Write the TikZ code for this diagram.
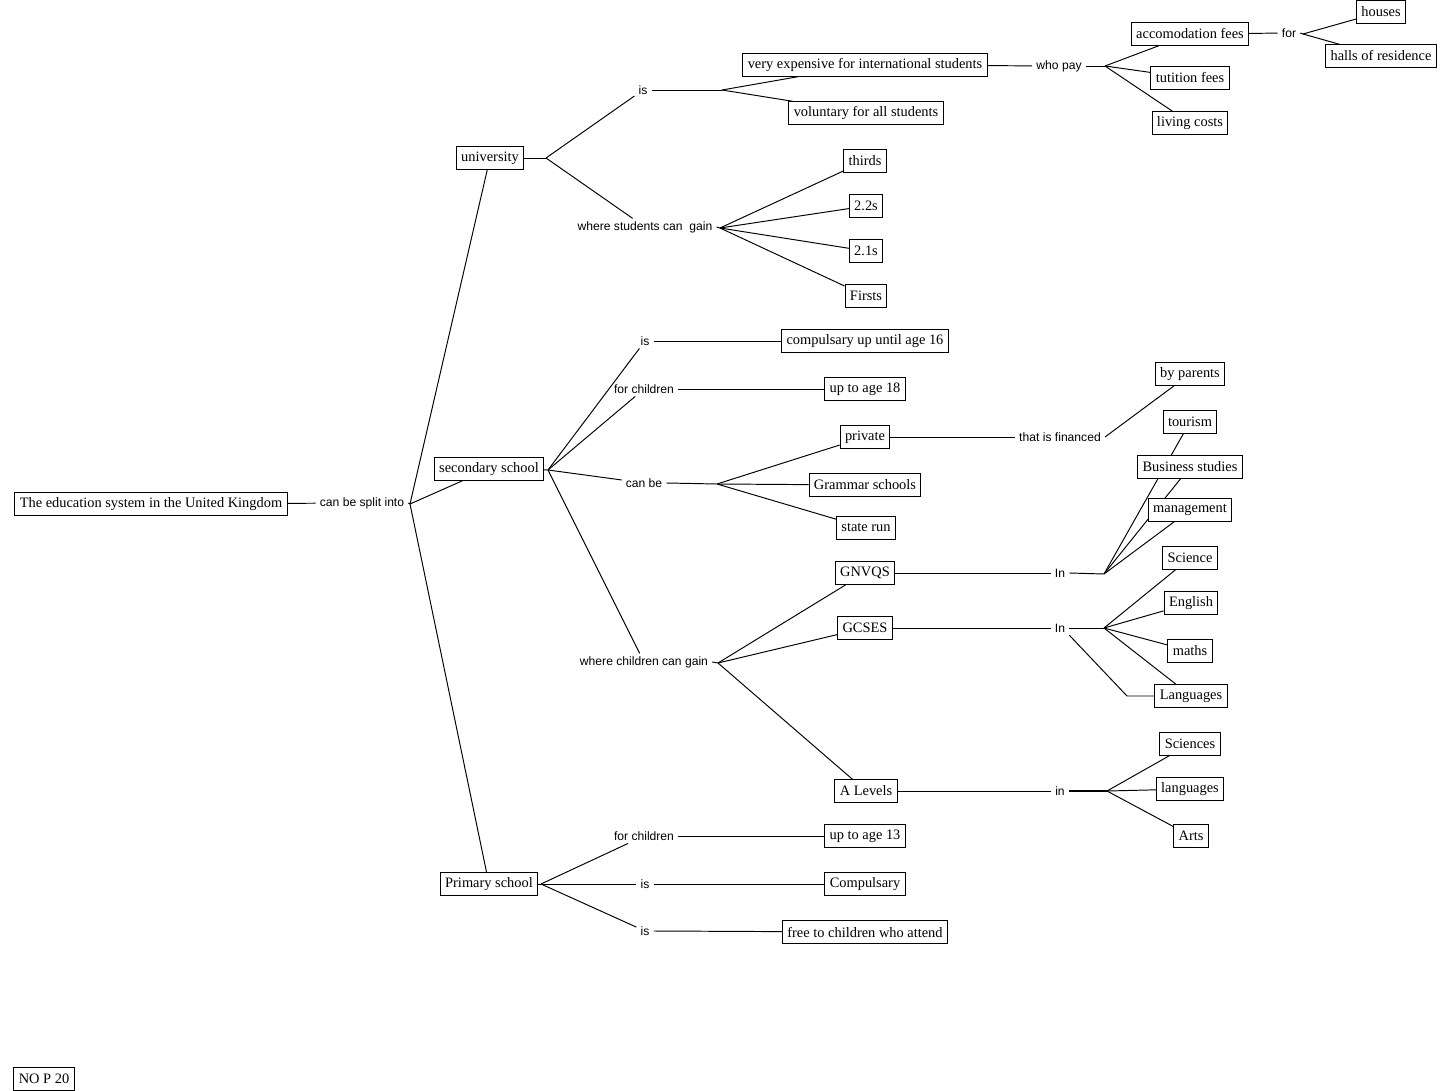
\documentclass[tikz,border=0pt]{standalone}
\usepackage{fontspec}
\setmainfont{Liberation Serif}
\setsansfont{Liberation Sans}
\usepackage{tikz}
\usetikzlibrary{backgrounds,calc}
\tikzset{
    % Plain boxes, sharp corners, white fill hides the lines behind
    conceptbox/.style={
        rectangle,
        draw=black,
        fill=white,
        line width=0.55pt,
        inner xsep=2.8pt,
        inner ysep=1pt,
        minimum height=0.45cm,
        align=center,
        font=\fontsize{8.2}{9.5}\selectfont
    },
    linkphrase/.style={
        inner xsep=2.2pt,
        inner ysep=1.5pt,
        font=\sffamily\fontsize{6.9}{8}\selectfont
    },
    connector/.style={
        line width=0.55pt,
        color=black
    }
}
\begin{document}
\begin{tikzpicture}[x=0.02cm, y=-0.02cm]
    \useasboundingbox (0,0) rectangle (1444,1091);
    \node[conceptbox] (ukedu) at (151,504) {The education system in the United Kingdom};
    \node[linkphrase] (splitinto) at (362,503) {can be split into};
    \node[conceptbox] (university) at (490,158) {university};
    \node[conceptbox] (secondary) at (489,469) {secondary school};
    \node[conceptbox] (primary) at (489,884) {Primary school};

    \node[linkphrase] (uniis) at (643,90) {is};
    \node[linkphrase] (unigain) at (645,227) {where students can\ \ gain};
    \node[conceptbox] (expensive) at (865,65) {very expensive for international students};
    \node[conceptbox] (voluntary) at (866,113) {voluntary for all students};
    \node[linkphrase] (whopay) at (1059,66) {who pay};
    \node[conceptbox] (accom) at (1190,34) {accomodation fees};
    \node[conceptbox] (tuition) at (1190,78) {tutition fees};
    \node[conceptbox] (living) at (1190,123) {living costs};
    \node[linkphrase] (accomfor) at (1289,33) {for};
    \node[conceptbox] (houses) at (1381,12) {houses};
    \node[conceptbox] (halls) at (1381,56) {halls of residence};
    \node[conceptbox] (thirds) at (865,161) {thirds};
    \node[conceptbox] (twotwo) at (866,206) {2.2s};
    \node[conceptbox] (twoone) at (866,251) {2.1s};
    \node[conceptbox] (firsts) at (866,296) {Firsts};

    \node[linkphrase] (secis) at (645,341) {is};
    \node[linkphrase] (secfor) at (644,389) {for children};
    \node[linkphrase] (seccan) at (644,483) {can be};
    \node[linkphrase] (secgain) at (644,662) {where children can gain};
    \node[conceptbox] (compul16) at (865,341) {compulsary up until age 16};
    \node[conceptbox] (age18) at (865,389) {up to age 18};
    \node[conceptbox] (private) at (865,437) {private};
    \node[conceptbox] (grammar) at (865,485) {Grammar schools};
    \node[conceptbox] (staterun) at (866,528) {state run};
    \node[linkphrase] (financed) at (1060,437) {that is financed};
    \node[conceptbox] (parents) at (1190,374) {by parents};
    \node[conceptbox] (gnvq) at (865,573) {GNVQS};
    \node[conceptbox] (gcse) at (865,628) {GCSES};
    \node[conceptbox] (alevel) at (866,791) {A Levels};
    \node[linkphrase] (gnvqin) at (1060,573) {In};
    \node[linkphrase] (gcsein) at (1060,628) {In};
    \node[linkphrase] (alevelin) at (1060,791) {in};
    \node[conceptbox] (tourism) at (1190,422) {tourism};
    \node[conceptbox] (business) at (1190,467) {Business studies};
    \node[conceptbox] (management) at (1190,510) {management};
    \node[conceptbox] (science) at (1190,558) {Science};
    \node[conceptbox] (english) at (1191,603) {English};
    \node[conceptbox] (maths) at (1190,651) {maths};
    \node[conceptbox] (languages) at (1191,696) {Languages};
    \node[conceptbox] (sciences) at (1190,744) {Sciences};
    \node[conceptbox] (alanguages) at (1190,789) {languages};
    \node[conceptbox] (arts) at (1191,836) {Arts};

    \node[linkphrase] (prifor) at (644,836) {for children};
    \node[linkphrase] (priis) at (645,884) {is};
    \node[linkphrase] (priisfree) at (645,931) {is};
    \node[conceptbox] (age13) at (865,836) {up to age 13};
    \node[conceptbox] (compulsary) at (865,884) {Compulsary};
    \node[conceptbox] (free) at (865,932) {free to children who attend};

    \node[conceptbox] (nop) at (44,1079) {NO P 20};

    \coordinate (splitJ) at (410,504);
    \coordinate (uniJ) at (546,158);
    \coordinate (uniisJ) at (722,90);
    \coordinate (unigainJ) at (720,228);
    \coordinate (whopayJ) at (1105,66);
    \coordinate (forJ) at (1303,34);
    \coordinate (secJ) at (548,470);
    \coordinate (seccanJ) at (717,484);
    \coordinate (secgainJ) at (718,663);
    \coordinate (gnvqinJ) at (1104,574);
    \coordinate (gcseinJ) at (1104,628);
    \coordinate (alevelinJ) at (1107,791);
    \coordinate (priJ) at (541,884);
    \coordinate (langbend) at (1127,696);

    \begin{pgfonlayer}{background}
    \draw[connector] (ukedu) -- (splitinto);
    \draw[connector] (splitinto.east) -- (splitJ);
    \draw[connector] (splitJ) -- (university);
    \draw[connector] (splitJ) -- (secondary);
    \draw[connector] (splitJ) -- (primary);

    \draw[connector] (university) -- (uniJ);
    \draw[connector] (uniJ) -- (uniis);
    \draw[connector] (uniJ) -- (unigain);
    \draw[connector] (uniis.east) -- (uniisJ);
    \draw[connector] (uniisJ) -- (expensive);
    \draw[connector] (uniisJ) -- (voluntary);
    \draw[connector] (expensive) -- (whopay);
    \draw[connector] (whopay.east) -- (whopayJ);
    \draw[connector] (whopayJ) -- (accom);
    \draw[connector] (whopayJ) -- (tuition);
    \draw[connector] (whopayJ) -- (living);
    \draw[connector] (accom) -- (accomfor);
    \draw[connector] (accomfor.east) -- (forJ);
    \draw[connector] (forJ) -- (houses);
    \draw[connector] (forJ) -- (halls);
    \draw[connector] (unigain.east) -- (unigainJ);
    \foreach \grade in {thirds,twotwo,twoone,firsts}
        \draw[connector] (unigainJ) -- (\grade);

    \draw[connector] (secondary) -- (secJ);
    \foreach \link in {secis,secfor,seccan,secgain}
        \draw[connector] (secJ) -- (\link);
    \draw[connector] (secis.east) -- (compul16);
    \draw[connector] (secfor.east) -- (age18);
    \draw[connector] (seccan.east) -- (seccanJ);
    \foreach \kind in {private,grammar,staterun}
        \draw[connector] (seccanJ) -- (\kind);
    \draw[connector] (private) -- (financed);
    \draw[connector] (financed.east) -- (parents);
    \draw[connector] (secgain.east) -- (secgainJ);
    \foreach \qual in {gnvq,gcse,alevel}
        \draw[connector] (secgainJ) -- (\qual);
    \draw[connector] (gnvq) -- (gnvqin);
    \draw[connector] (gnvqin.east) -- (gnvqinJ);
    \foreach \subj in {tourism,business,management}
        \draw[connector] (gnvqinJ) -- (\subj);
    \draw[connector] (gcse) -- (gcsein);
    \draw[connector] (gcsein.east) -- (gcseinJ);
    \foreach \subj in {science,english,maths,languages}
        \draw[connector] (gcseinJ) -- (\subj);
    \draw[connector] (gcsein.south east) -- (langbend) -- (languages);
    \draw[connector] (alevel) -- (alevelin);
    \draw[connector, line width=0.9pt] (alevelin.east) -- (alevelinJ);
    \foreach \subj in {sciences,alanguages,arts}
        \draw[connector] (alevelinJ) -- (\subj);

    \draw[connector] (primary) -- (priJ);
    \foreach \link in {prifor,priis,priisfree}
        \draw[connector] (priJ) -- (\link);
    \draw[connector] (prifor.east) -- (age13);
    \draw[connector] (priis.east) -- (compulsary);
    \draw[connector] (priisfree.east) -- (free);
    \end{pgfonlayer}
\end{tikzpicture}
\end{document}
